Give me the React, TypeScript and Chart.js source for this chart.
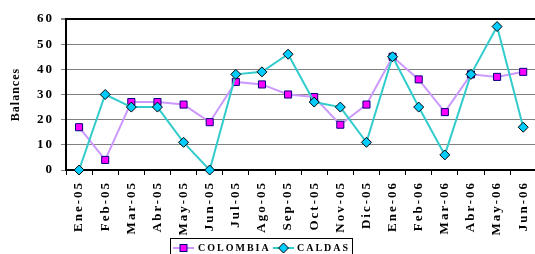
import React, { useEffect, useRef } from "react";
import { Chart, registerables } from "chart.js";

Chart.register(...registerables);

const categories = [
  "Ene-05", "Feb-05", "Mar-05", "Abr-05", "May-05", "Jun-05",
  "Jul-05", "Ago-05", "Sep-05", "Oct-05", "Nov-05", "Dic-05",
  "Ene-06", "Feb-06", "Mar-06", "Abr-06", "May-06", "Jun-06",
];
const colombia = [17, 4, 27, 27, 26, 19, 35, 34, 30, 29, 18, 26, 45, 36, 23, 38, 37, 39];
const caldas = [0, 30, 25, 25, 11, 0, 38, 39, 46, 27, 25, 11, 45, 25, 6, 38, 57, 17];
const yTicks = [0, 10, 20, 30, 40, 50, 60];
const yTitle = "Balances";
const seriesNames = ["COLOMBIA", "CALDAS"];

const FONT = '"Liberation Serif", "Times New Roman", serif';

const COL_LINE = "#CC99FF";
const COL_FILL = "#FF00FF";
const COL_EDGE = "#000080";
const CAL_LINE = "#33CCCC";
const CAL_FILL = "#00CCFF";
const CAL_EDGE = "#000000";

const spacingPlugin = {
  id: "spacing",
  beforeUpdate(chart: any) {
    chart.ctx.letterSpacing = "2px";
  },
  beforeLayout(chart: any) {
    chart.ctx.letterSpacing = "2px";
  },
  beforeDraw(chart: any) {
    chart.ctx.letterSpacing = "2px";
  },
  afterDraw(chart: any) {
    const ctx = chart.ctx as CanvasRenderingContext2D;
    const area = chart.chartArea;
    // Y title
    ctx.save();
    ctx.letterSpacing = "1px";
    ctx.font = `bold 12px ${FONT}`;
    ctx.fillStyle = "#000";
    ctx.textAlign = "center";
    ctx.textBaseline = "middle";
    ctx.translate(16, (area.top + area.bottom) / 2);
    ctx.rotate(-Math.PI / 2);
    ctx.fillText(yTitle, 0, 0);
    ctx.restore();

    // Legend
    ctx.save();
    ctx.letterSpacing = "2px";
    ctx.font = `bold 10px ${FONT}`;
    ctx.strokeStyle = "#000";
    ctx.lineWidth = 1;
    ctx.strokeRect(170.5, 238.5, 182, 22);
    const ly = 248;
    // colombia
    ctx.strokeStyle = COL_LINE;
    ctx.lineWidth = 2;
    ctx.beginPath();
    ctx.moveTo(173, ly);
    ctx.lineTo(194, ly);
    ctx.stroke();
    ctx.fillStyle = COL_FILL;
    ctx.strokeStyle = COL_EDGE;
    ctx.lineWidth = 1;
    ctx.fillRect(180, ly - 3.5, 7, 7);
    ctx.strokeRect(180, ly - 3.5, 7, 7);
    ctx.fillStyle = "#000";
    ctx.textBaseline = "middle";
    ctx.textAlign = "left";
    ctx.fillText(seriesNames[0], 198, ly);
    // caldas
    ctx.strokeStyle = CAL_LINE;
    ctx.lineWidth = 2;
    ctx.beginPath();
    ctx.moveTo(273, ly);
    ctx.lineTo(294, ly);
    ctx.stroke();
    ctx.fillStyle = CAL_FILL;
    ctx.strokeStyle = CAL_EDGE;
    ctx.lineWidth = 1;
    ctx.beginPath();
    ctx.moveTo(283.5, ly - 5);
    ctx.lineTo(288.5, ly);
    ctx.lineTo(283.5, ly + 5);
    ctx.lineTo(278.5, ly);
    ctx.closePath();
    ctx.fill();
    ctx.stroke();
    ctx.fillStyle = "#000";
    ctx.fillText(seriesNames[1], 297, ly);
    ctx.restore();
  },
};

export default function App() {
  const ref = useRef<HTMLCanvasElement | null>(null);

  useEffect(() => {
    const canvas = ref.current!;
    const chart = new Chart(canvas, {
      type: "line",
      data: {
        labels: categories,
        datasets: [
          {
            label: seriesNames[0],
            data: colombia,
            borderColor: COL_LINE,
            borderWidth: 2,
            pointStyle: "rect",
            pointRadius: 5,
            pointBackgroundColor: COL_FILL,
            pointBorderColor: COL_EDGE,
            pointBorderWidth: 1,
            tension: 0,
            clip: false as any,
            order: 2,
          },
          {
            label: seriesNames[1],
            data: caldas,
            borderColor: CAL_LINE,
            borderWidth: 2,
            pointStyle: "rectRot",
            pointRadius: 5,
            pointBackgroundColor: CAL_FILL,
            pointBorderColor: CAL_EDGE,
            pointBorderWidth: 1,
            tension: 0,
            clip: false as any,
            order: 1,
          },
        ],
      },
      options: {
        animation: false,
        responsive: false,
        devicePixelRatio: 1,
        layout: { padding: { left: 0, right: 7, top: 19, bottom: 0 } },
        plugins: {
          legend: { display: false },
          tooltip: { enabled: false },
        },
        scales: {
          x: {
            type: "category",
            offset: true,
            grid: {
              display: true,
              drawOnChartArea: false,
              drawTicks: true,
              tickLength: 5,
              color: "#000",
              offset: true,
            },
            border: { display: true, color: "#000", width: 2 },
            ticks: {
              autoSkip: false,
              minRotation: 90,
              maxRotation: 90,
              padding: 6,
              color: "#000",
              font: { family: FONT, size: 13, weight: "bold" },
            },
            afterFit: (scale: any) => {
              scale.height = 84;
            },
          },
          y: {
            min: 0,
            max: 60,
            afterBuildTicks: (scale: any) => {
              scale.ticks = yTicks.map((v) => ({ value: v }));
            },
            grid: {
              color: (c: any) => (c.tick && c.tick.value === 60 ? "#000" : "#808080"),
              lineWidth: (c: any) => (c.tick && c.tick.value === 60 ? 2 : 1),
              tickColor: "#808080",
              tickLength: 5,
              drawTicks: true,
            },
            border: { display: true, color: "#000", width: 2 },
            ticks: {
              padding: 7,
              color: "#000",
              font: { family: FONT, size: 13, weight: "bold" },
            },
            afterFit: (scale: any) => {
              scale.width = 66;
            },
          },
        },
      },
      plugins: [spacingPlugin],
    });
    return () => chart.destroy();
  }, []);

  return (
    <div
      style={{
        position: "fixed",
        left: 0,
        top: 0,
        width: 535,
        height: 254,
        overflow: "hidden",
        background: "#fff",
      }}
    >
      <canvas ref={ref} width={545} height={254} style={{ width: 545, height: 254, display: "block" }} />
    </div>
  );
}
